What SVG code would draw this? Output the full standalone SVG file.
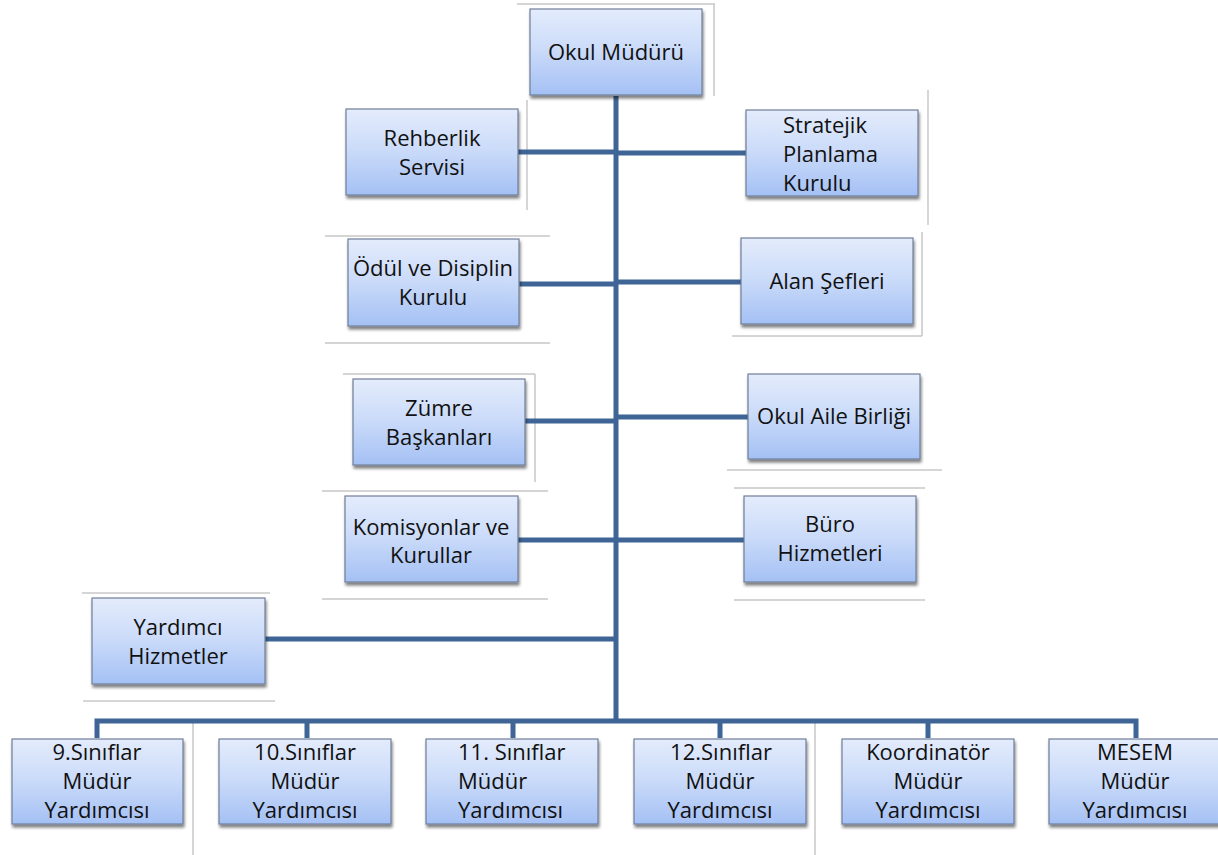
<svg xmlns="http://www.w3.org/2000/svg" width="1218" height="855" viewBox="0 0 1218 855">
  <defs>
    <linearGradient id="boxfill" x1="0" y1="0" x2="0" y2="1">
      <stop offset="0" stop-color="#e4ecfc"/>
      <stop offset="0.5" stop-color="#c9daf9"/>
      <stop offset="1" stop-color="#a4c0f4"/>
    </linearGradient>
    <filter id="shadow" x="-10%" y="-10%" width="125%" height="130%">
      <feGaussianBlur in="SourceAlpha" stdDeviation="1.8"/>
      <feOffset dx="1" dy="2.5" result="b"/>
      <feComponentTransfer><feFuncA type="linear" slope="0.5"/></feComponentTransfer>
      <feMerge><feMergeNode/><feMergeNode in="SourceGraphic"/></feMerge>
    </filter>
  </defs>
  <style>
    .box { fill: url(#boxfill); stroke: #6f7f99; stroke-width: 1.2; filter: url(#shadow); }
    .t { font-family: "Open Sans", "Noto Sans", sans-serif; font-size: 22px; fill: #111; text-anchor: middle; }
    .tl { text-anchor: start; }
    .c { stroke: #3e6596; stroke-width: 5; fill: none; }
    .g { stroke: #c8c8c8; stroke-width: 1.5; fill: none; }
  </style>
  <rect width="1218" height="855" fill="#ffffff"/>

  <!-- faint frame lines from the source picture -->
  <g id="frames">
    <path class="g" d="M517 4 H715 M714 4 V96"/>
    <path class="g" d="M527 100 V210"/>
    <path class="g" d="M928 90 V225"/>
    <path class="g" d="M325 236 H550 M325 343 H550"/>
    <path class="g" d="M922 232 V336 M732 336 H922"/>
    <path class="g" d="M343 374 H535 M535 374 V482"/>
    <path class="g" d="M727 470 H942"/>
    <path class="g" d="M322 491 H548 M322 599 H548"/>
    <path class="g" d="M734 488 H925 M734 600 H925"/>
    <path class="g" d="M82 593 H270"/>
    <path class="g" d="M83 701 H275"/>
    <path class="g" d="M193 720 V855 M815 720 V855"/>
  </g>

  <g id="connectors">
    <path class="c" d="M616 96 V721"/>
    <path class="c" d="M518 152 H616 M616 153 H746"/>
    <path class="c" d="M519 284 H616 M616 282 H741"/>
    <path class="c" d="M525 421 H616 M616 417 H748"/>
    <path class="c" d="M518 540 H616 M616 540 H744"/>
    <path class="c" d="M265 639 H616"/>
    <path class="c" d="M97 738 V721 H1136 V738"/>
    <path class="c" d="M307 721 V738 M513 721 V738 M720 721 V738 M928 721 V738"/>
  </g>

  <g id="okul-muduru">
    <rect class="box" x="530" y="9" width="172" height="86"/>
    <text class="t" x="616" y="60">Okul Müdürü</text>
  </g>
  <g id="rehberlik-servisi">
    <rect class="box" x="346" y="109" width="172" height="86"/>
    <text class="t" x="432" y="146">Rehberlik</text>
    <text class="t" x="432" y="175">Servisi</text>
  </g>
  <g id="stratejik-planlama-kurulu">
    <rect class="box" x="746" y="110" width="172" height="86"/>
    <text class="t tl" x="783" y="133">Stratejik</text>
    <text class="t tl" x="783" y="162">Planlama</text>
    <text class="t tl" x="783" y="191">Kurulu</text>
  </g>
  <g id="odul-ve-disiplin-kurulu">
    <rect class="box" x="348" y="239" width="171" height="87"/>
    <text class="t" x="433" y="276">Ödül ve Disiplin</text>
    <text class="t" x="433" y="305">Kurulu</text>
  </g>
  <g id="alan-sefleri">
    <rect class="box" x="741" y="238" width="172" height="86"/>
    <text class="t" x="827" y="289">Alan Şefleri</text>
  </g>
  <g id="zumre-baskanlari">
    <rect class="box" x="353" y="379" width="172" height="86"/>
    <text class="t" x="439" y="416">Zümre</text>
    <text class="t" x="439" y="445">Başkanları</text>
  </g>
  <g id="okul-aile-birligi">
    <rect class="box" x="748" y="374" width="172" height="85"/>
    <text class="t" x="834" y="424">Okul Aile Birliği</text>
  </g>
  <g id="komisyonlar-ve-kurullar">
    <rect class="box" x="345" y="496" width="173" height="86"/>
    <text class="t" x="431" y="535">Komisyonlar ve</text>
    <text class="t" x="431" y="563">Kurullar</text>
  </g>
  <g id="buro-hizmetleri">
    <rect class="box" x="744" y="496" width="172" height="86"/>
    <text class="t" x="830" y="532">Büro</text>
    <text class="t" x="830" y="561">Hizmetleri</text>
  </g>
  <g id="yardimci-hizmetler">
    <rect class="box" x="92" y="598" width="173" height="86"/>
    <text class="t" x="178" y="635">Yardımcı</text>
    <text class="t" x="178" y="664">Hizmetler</text>
  </g>

  <g id="sinif9-mudur-yardimcisi">
    <rect class="box" x="12" y="739" width="171" height="85"/>
    <text class="t" x="97" y="760">9.Sınıflar</text>
    <text class="t" x="97" y="789">Müdür</text>
    <text class="t" x="97" y="818">Yardımcısı</text>
  </g>
  <g id="sinif10-mudur-yardimcisi">
    <rect class="box" x="219" y="739" width="172" height="85"/>
    <text class="t" x="305" y="760">10.Sınıflar</text>
    <text class="t" x="305" y="789">Müdür</text>
    <text class="t" x="305" y="818">Yardımcısı</text>
  </g>
  <g id="sinif11-mudur-yardimcisi">
    <rect class="box" x="426" y="739" width="172" height="85"/>
    <text class="t tl" x="458" y="760">11. Sınıflar</text>
    <text class="t tl" x="458" y="789">Müdür</text>
    <text class="t tl" x="458" y="818">Yardımcısı</text>
  </g>
  <g id="sinif12-mudur-yardimcisi">
    <rect class="box" x="634" y="739" width="172" height="85"/>
    <text class="t" x="721" y="760">12.Sınıflar</text>
    <text class="t" x="720" y="789">Müdür</text>
    <text class="t" x="720" y="818">Yardımcısı</text>
  </g>
  <g id="koordinator-mudur-yardimcisi">
    <rect class="box" x="842" y="739" width="172" height="85"/>
    <text class="t" x="928" y="760">Koordinatör</text>
    <text class="t" x="928" y="789">Müdür</text>
    <text class="t" x="928" y="818">Yardımcısı</text>
  </g>
  <g id="mesem-mudur-yardimcisi">
    <rect class="box" x="1049" y="739" width="172" height="85"/>
    <text class="t" x="1135" y="760">MESEM</text>
    <text class="t" x="1135" y="789">Müdür</text>
    <text class="t" x="1135" y="818">Yardımcısı</text>
  </g>
</svg>
